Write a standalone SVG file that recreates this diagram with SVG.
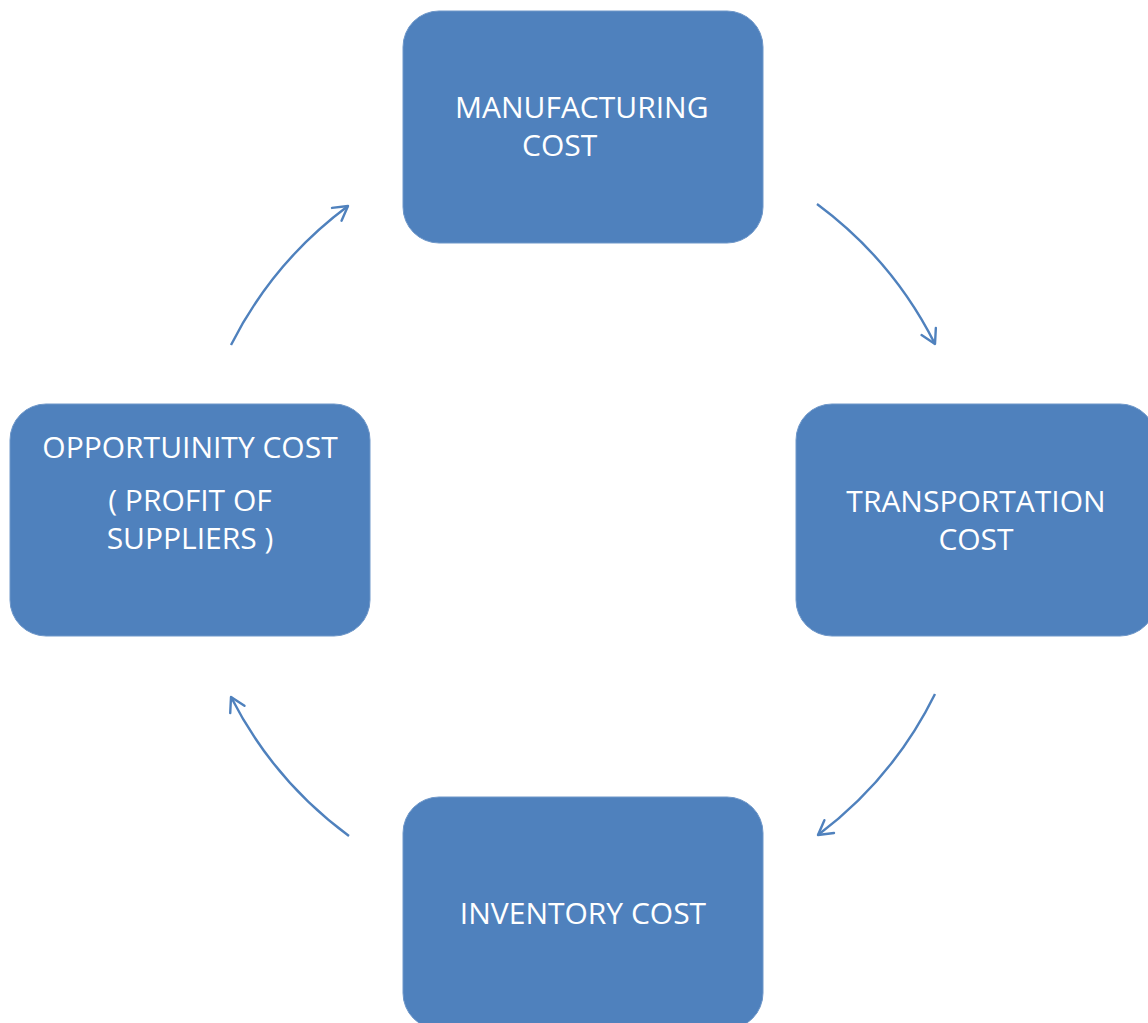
<svg xmlns="http://www.w3.org/2000/svg" width="1148" height="1023" viewBox="0 0 1148 1023">
<style>
.box{fill:#4F81BD;stroke:#6E97C9;stroke-width:1}
.lbl{font-family:"Open Sans","Liberation Sans",sans-serif;font-size:30px;fill:#FFFFFF}
.conn{fill:none;stroke:#4F81BD;stroke-width:2.4;marker-end:url(#arr)}
</style>
<defs>
<marker id="arr" viewBox="0 0 20 20" refX="17" refY="10" markerWidth="20" markerHeight="20" markerUnits="userSpaceOnUse" orient="auto">
<path d="M3,2 L17,10 L3,18" fill="none" stroke="#4F81BD" stroke-width="2.4" stroke-linecap="round" stroke-linejoin="round"/>
</marker>
</defs>
<rect width="1148" height="1023" fill="#FFFFFF"/>
<g id="connectors">
<path class="conn" d="M817,204 A395,395 0 0 1 935,344"/>
<path class="conn" d="M935,694 A395,395 0 0 1 818,835"/>
<path class="conn" d="M349,836 A395,395 0 0 1 231,697"/>
<path class="conn" d="M231,345 A395,395 0 0 1 348,206"/>
</g>
<g id="manufacturing">
<rect class="box" x="403" y="11" width="360" height="232" rx="36"/>
<text class="lbl" x="455" y="118">MANUFACTURING</text>
<text class="lbl" x="522" y="156">COST</text>
</g>
<g id="transportation">
<rect class="box" x="796" y="404" width="360" height="232" rx="36"/>
<text class="lbl" x="976" y="512" text-anchor="middle">TRANSPORTATION</text>
<text class="lbl" x="976" y="550" text-anchor="middle">COST</text>
</g>
<g id="inventory">
<rect class="box" x="403" y="797" width="360" height="232" rx="36"/>
<text class="lbl" x="583" y="924" text-anchor="middle">INVENTORY COST</text>
</g>
<g id="opportunity">
<rect class="box" x="10" y="404" width="360" height="232" rx="36"/>
<text class="lbl" x="190" y="458" text-anchor="middle">OPPORTUINITY COST</text>
<text class="lbl" x="190" y="511" text-anchor="middle">( PROFIT OF</text>
<text class="lbl" x="190" y="549" text-anchor="middle">SUPPLIERS )</text>
</g>
</svg>
